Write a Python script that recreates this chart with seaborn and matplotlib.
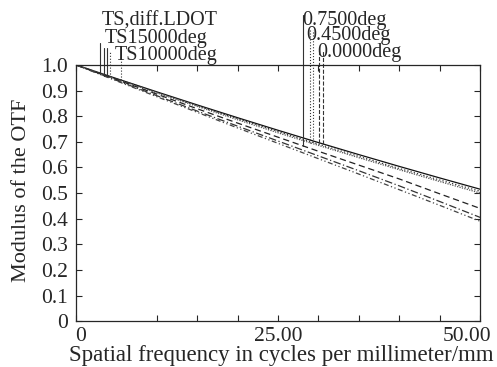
import numpy as np
import pandas as pd
import matplotlib
matplotlib.use("Agg")
import matplotlib.pyplot as plt
import matplotlib.transforms as mtransforms
import seaborn as sns

# spatial frequency samples (cycles/mm)
freq = [0, 5, 10, 15, 20, 25, 30, 35, 40, 45, 50]

# MTF curves
diff_limit = [1.000, 0.947, 0.895, 0.844, 0.794, 0.745, 0.697, 0.650, 0.604, 0.559, 0.515]
field_000 = [1.000, 0.946, 0.893, 0.841, 0.790, 0.740, 0.691, 0.643, 0.596, 0.551, 0.507]
field_045 = [1.000, 0.945, 0.891, 0.838, 0.786, 0.735, 0.686, 0.638, 0.591, 0.545, 0.500]
field_075 = [1.000, 0.943, 0.886, 0.829, 0.773, 0.718, 0.663, 0.609, 0.555, 0.497, 0.440]
field_100 = [1.000, 0.940, 0.880, 0.820, 0.761, 0.703, 0.645, 0.587, 0.528, 0.467, 0.405]
field_150 = [1.000, 0.938, 0.876, 0.815, 0.754, 0.694, 0.634, 0.574, 0.513, 0.452, 0.390]

series_names = ["diff", "0.00", "0.45", "0.75", "1.00", "1.50"]
series_vals = [diff_limit, field_000, field_045, field_075, field_100, field_150]
series_styles = ["-", ":", (0, (1, 1)), (0, (5, 3)), (0, (6, 2, 1, 2)), (0, (4, 2, 1, 2, 1, 2))]
series_colors = ["#111111", "#333333", "#555555", "#222222", "#333333", "#444444"]

# leader-line labels (Zemax style)
left_labels = ["TS,diff.LDOT", "TS15000deg", "TS10000deg"]
right_labels = ["0.7500deg", "0.4500deg", "0.0000deg"]

df = pd.DataFrame({
    "freq": np.tile(freq, len(series_names)),
    "mtf": np.concatenate(series_vals),
    "series": np.repeat(series_names, len(freq)),
})

sns.set_style("ticks")
plt.rcParams["font.family"] = ["Liberation Serif", "DejaVu Serif"]

fig = plt.figure(figsize=(4.97, 3.67), dpi=100)
ax = fig.add_axes([0.153, 0.125, 0.813, 0.698])

for name, ls, col in zip(series_names, series_styles, series_colors):
    sub = df[df["series"] == name]
    sns.lineplot(data=sub, x="freq", y="mtf", ax=ax, color=col,
                 linestyle=ls, linewidth=0.9, legend=False)

# leader lines: (x, top y, curve index, style)
left_leaders = [(3.0, 1.086, 5, "-"), (3.5, 1.066, 4, "-"), (3.8, 1.066, 3, "-"),
                (4.2, 1.05, 2, ":"), (5.6, 1.02, 0, ":")]
right_leaders = [(28.1, 1.195, 3, "-"), (28.9, 1.137, 2, ":"), (29.3, 1.137, 1, ":"),
                 (30.1, 1.06, 0, "--"), (30.6, 1.06, 0, "--")]
for x, top, idx, ls in left_leaders + right_leaders:
    bottom = np.interp(x, freq, series_vals[idx])
    ax.plot([x, x], [bottom, top], color="#333333", linestyle=ls,
            linewidth=0.8, clip_on=False)

fs = 15.5
fs_top = 14.5
for txt, x, y in zip(left_labels, [3.2, 3.6, 4.8], [1.152, 1.086, 1.02]):
    ax.text(x, y, txt, fontsize=fs_top, va="baseline", ha="left")
for txt, x, y in zip(right_labels, [28.0, 28.5, 29.8], [1.156, 1.098, 1.031]):
    ax.text(x, y, txt, fontsize=fs_top, va="baseline", ha="left")

ax.set_xlim(0, 50)
ax.set_ylim(0, 1.0)
ax.set_xticks([0, 10, 15, 20, 25, 30, 35, 40, 45, 50])
ax.set_xticklabels(["0", "", "", "", "25.00", "", "", "", "", "50.00"])
ax.set_yticks(np.arange(0, 1.01, 0.1))
ax.set_yticklabels(["0", "0.1", "0.2", "0.3", "0.4", "0.5", "0.6", "0.7", "0.8", "0.9", "1.0"])
ax.tick_params(direction="in", top=True, right=True, labelsize=fs, length=4, width=0.8)
ax.tick_params(axis="x", pad=4)
ax.tick_params(axis="y", pad=6)
for s in ax.spines.values():
    s.set_visible(True)
    s.set_linewidth(0.9)

# Zemax places the end labels off-centre
xl = ax.get_xticklabels()
xl[0].set_transform(xl[0].get_transform() + mtransforms.ScaledTranslation(5 / 100, 0, fig.dpi_scale_trans))
xl[-1].set_transform(xl[-1].get_transform() + mtransforms.ScaledTranslation(-13 / 100, 0, fig.dpi_scale_trans))

ax.set_xlabel("Spatial frequency in cycles per millimeter/mm", fontsize=16.5)
ax.set_ylabel("Modulus of the OTF", fontsize=16)
ax.xaxis.set_label_coords(0.507, -0.092)
ax.yaxis.set_label_coords(-0.112, 0.51)

fig.savefig("out.png", dpi=100)
